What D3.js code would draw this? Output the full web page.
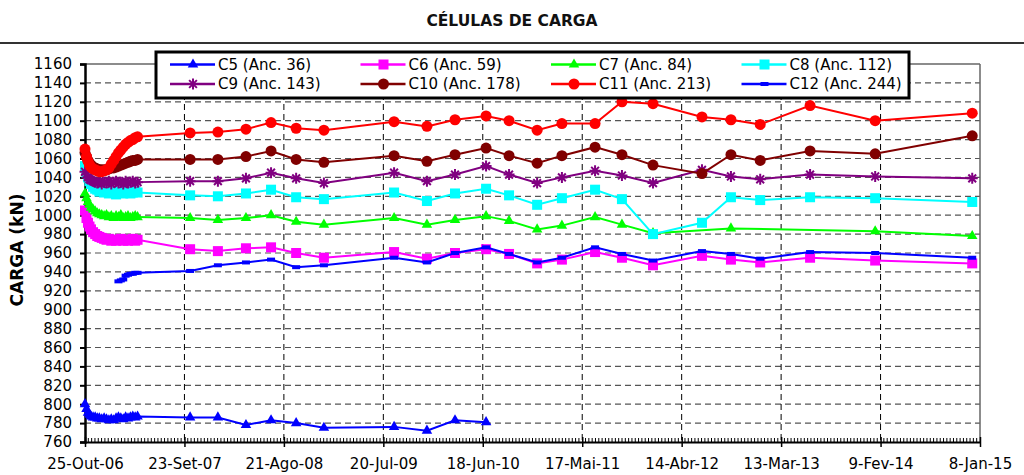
<!DOCTYPE html>
<html><head><meta charset="utf-8">
<script src="https://cdn.jsdelivr.net/npm/d3@7"></script>
<style>
html,body{margin:0;padding:0;background:#fff;}
svg{display:block;font-family:"DejaVu Sans",Verdana,sans-serif;}
</style></head>
<body><svg id="chart" width="1024" height="475"></svg>
<script>
// ---------- DATA ----------
const dates = [
 "2006-10-25","2006-10-30","2006-11-04","2006-11-09","2006-11-14","2006-11-21","2006-11-28","2006-12-05",
 "2006-12-12","2006-12-20","2006-12-28","2007-01-05","2007-01-13","2007-01-21","2007-01-29","2007-02-06",
 "2007-02-14","2007-02-22","2007-03-02","2007-03-10","2007-03-18","2007-03-26","2007-04-03","2007-04-11","2007-04-19",
 "2007-10-12","2008-01-13","2008-04-16","2008-07-09","2008-10-01","2009-01-02","2009-08-25","2009-12-13",
 "2010-03-17","2010-06-29","2010-09-14","2010-12-17","2011-03-10","2011-06-29","2011-09-27","2012-01-09",
 "2012-06-21","2012-09-26","2013-01-02","2013-06-18","2014-01-22","2014-12-13"
];
const seriesNames = ["C5 (Anc. 36)","C6 (Anc. 59)","C7 (Anc. 84)","C8 (Anc. 112)",
                     "C9 (Anc. 143)","C10 (Anc. 178)","C11 (Anc. 213)","C12 (Anc. 244)"];
const c5 = [800,795,791,789,787,786,786,785,785,784,785,784,783,784,783,785,786,785,784,786,785,786,787,786,787,
            786,786,778,783,780,775,776,772,783,781,null,null,null,null,null,null,null,null,null,null,null,null];
const c6 = [1005,997,992,988,985,982,980,978,977,976,975,974,975,973,974,973,974,975,973,974,973,974,975,973,974,
            964,962,965,966,960,955,961,954,960,964,959,949,953,961,955,947,957,953,950,955,952,949];
const c7 = [1023,1018,1014,1011,1008,1006,1004,1002,1001,1000,999,1000,998,999,997,999,998,1000,997,998,999,997,998,999,998,
            997,995,997,1000,993,990,997,990,995,999,994,985,989,998,990,981,null,986,null,null,983,978];
const c8 = [1052,1045,1040,1036,1033,1030,1028,1027,1025,1026,1024,1025,1023,1025,1024,1022,1024,1025,1023,1024,1025,1023,1024,1025,1024,
            1021,1020,1023,1027,1019,1017,1024,1015,1023,1028,1021,1011,1018,1027,1017,980,992,1019,1016,1019,1018,1014];
const c9 = [1046,1043,1040,1038,1037,1036,1035,1034,1036,1033,1035,1034,1036,1033,1035,1036,1034,1035,1033,1036,1034,1035,1036,1034,1035,
            1036,1036,1039,1045,1039,1034,1045,1036,1043,1052,1043,1034,1040,1047,1042,1034,1048,1041,1038,1043,1041,1039];
const c10 = [1066,1062,1058,1055,1053,1051,1050,1049,1048,1048,1048,1048,1049,1050,1050,1051,1052,1053,1054,1055,1056,1057,1058,1058,1059,
             1059,1059,1062,1068,1059,1056,1063,1057,1064,1071,1063,1055,1063,1072,1064,1053,1044,1064,1058,1068,1065,1084];
const c11 = [1070,1062,1057,1053,1051,1049,1048,1047,1046,1046,1047,1048,1050,1054,1058,1062,1066,1069,1072,1075,1077,1079,1080,1082,1083,
             1087,1088,1091,1098,1092,1090,1099,1094,1101,1105,1100,1090,1097,1097,1120,1118,1104,1101,1096,1116,1100,1108];
const c12 = [null,null,null,null,null,null,null,null,null,null,null,null,null,null,null,null,930,931,932,936,937,938,938,939,939,
             941,947,950,953,945,947,955,950,960,966,959,950,955,966,959,952,962,959,954,961,960,955];
const xTickDates = ["2006-10-25","2007-09-23","2008-08-21","2009-07-20","2010-06-18",
                    "2011-05-17","2012-04-14","2013-03-13","2014-02-09","2015-01-08"];
const xTickLabels = ["25-Out-06","23-Set-07","21-Ago-08","20-Jul-09","18-Jun-10",
                     "17-Mai-11","14-Abr-12","13-Mar-13","9-Fev-14","8-Jan-15"];
const yTicks = d3.range(760, 1161, 20);

// ---------- STYLE ----------
const colors = ["#0000FF","#FF00FF","#00FF00","#00FFFF","#800080","#800000","#FF0000","#0000FF"];
const markers = ["triangle","square","triangle","square","star","circle","circle","dash"];
const allSeries = [c5,c6,c7,c8,c9,c10,c11,c12];

const parse = d3.timeParse("%Y-%m-%d");
const svg = d3.select("#chart");
const L = 85, R = 980, T = 64, B = 442;
const x = d3.scaleTime().domain([parse(xTickDates[0]), parse(xTickDates[xTickDates.length-1])]).range([L, R]);
const y = d3.scaleLinear().domain([760, 1160]).range([B, T]);

// title
svg.append("text").attr("x", 512).attr("y", 26).attr("text-anchor","middle")
  .attr("font-size", 15.5).attr("font-weight","bold").attr("fill","#111").text("CÉLULAS DE CARGA");
svg.append("line").attr("x1",0).attr("x2",1024).attr("y1",43).attr("y2",43)
  .attr("stroke","#333").attr("stroke-width",2);

// gridlines
const grid = svg.append("g");
yTicks.filter(v => v > 760 && v < 1160).forEach(v => {
  grid.append("line").attr("x1", L).attr("x2", R).attr("y1", y(v)).attr("y2", y(v))
    .attr("stroke","#555").attr("stroke-width",1.2).attr("stroke-dasharray","6,4");
});
xTickDates.slice(1, -1).forEach(d => {
  grid.append("line").attr("x1", x(parse(d))).attr("x2", x(parse(d))).attr("y1", T).attr("y2", B)
    .attr("stroke","#000").attr("stroke-width",1).attr("stroke-dasharray","6,4");
});
// frame top/right
svg.append("line").attr("x1", L).attr("x2", R).attr("y1", T).attr("y2", T).attr("stroke","#666").attr("stroke-width",1.5);
svg.append("line").attr("x1", R).attr("x2", R).attr("y1", T).attr("y2", B).attr("stroke","#666").attr("stroke-width",1.5);

// y axis
const yAxis = svg.append("g").attr("transform", `translate(${L},0)`)
  .call(d3.axisLeft(y).tickValues(yTicks).tickSize(5).tickPadding(8).tickFormat(d3.format("d")));
yAxis.select(".domain").attr("stroke","#000").attr("stroke-width",2.5);
yAxis.selectAll(".tick line").attr("stroke","#000").attr("stroke-width",2);
yAxis.selectAll(".tick text").attr("font-size",15).attr("font-family","DejaVu Sans, sans-serif").attr("fill","#000");

// x axis
const labelMap = new Map(xTickDates.map((d,i) => [+parse(d), xTickLabels[i]]));
const xAxis = svg.append("g").attr("transform", `translate(0,${B})`)
  .call(d3.axisBottom(x).tickValues(xTickDates.map(parse)).tickSizeInner(5).tickSizeOuter(0).tickPadding(11)
        .tickFormat(d => labelMap.get(+d)));
xAxis.select(".domain").attr("stroke","#000").attr("stroke-width",2);
xAxis.selectAll(".tick line").attr("stroke","#000").attr("stroke-width",1.5).attr("y1",-5);
xAxis.selectAll(".tick text").attr("font-size",15).attr("font-family","DejaVu Sans, sans-serif").attr("fill","#000");
// minor ticks
const minor = svg.append("g");
for (let i = 0; i < xTickDates.length - 1; i++) {
  const a = x(parse(xTickDates[i])), b = x(parse(xTickDates[i+1]));
  for (let k = 1; k < 30; k++) {
    const px = a + (b - a) * k / 30;
    minor.append("line").attr("x1", px).attr("x2", px).attr("y1", B).attr("y2", B - 4)
      .attr("stroke","#000").attr("stroke-width",1);
  }
}

// y title
svg.append("text").attr("transform", "translate(23,250) rotate(-90)").attr("text-anchor","middle")
  .attr("font-size",17).attr("font-weight","bold").attr("fill","#000").text("CARGA  (kN)");

// marker drawer
function drawMarker(g, type, color, cx, cy) {
  if (type === "triangle") {
    g.append("path").attr("d", d3.symbol().type(d3.symbolTriangle).size(48)())
      .attr("transform", `translate(${cx},${cy})`).attr("fill", color);
  } else if (type === "square") {
    g.append("rect").attr("x", cx-5).attr("y", cy-5).attr("width",10).attr("height",10).attr("fill", color);
  } else if (type === "circle") {
    g.append("circle").attr("cx", cx).attr("cy", cy).attr("r", 5.5).attr("fill", color);
  } else if (type === "star") {
    const r = 5.5, p = [];
    for (let k = 0; k < 4; k++) {
      const a = k * Math.PI / 4;
      p.push(`M${cx - r*Math.cos(a)},${cy - r*Math.sin(a)}L${cx + r*Math.cos(a)},${cy + r*Math.sin(a)}`);
    }
    g.append("path").attr("d", p.join("")).attr("stroke", color).attr("stroke-width",2).attr("fill","none");
  } else if (type === "dash") {
    g.append("rect").attr("x", cx-4).attr("y", cy-2).attr("width",8).attr("height",4).attr("fill", color);
  }
}

// series
const plot = svg.append("g");
const line = d3.line().x(d => x(d.date)).y(d => y(d.v));
allSeries.forEach((vals, si) => {
  const pts = dates.map((d,i) => ({date: parse(d), v: vals[i]})).filter(p => p.v !== null);
  const g = plot.append("g");
  g.append("path").datum(pts).attr("d", line).attr("fill","none")
    .attr("stroke", colors[si]).attr("stroke-width",2);
  pts.forEach(p => drawMarker(g, markers[si], colors[si], x(p.date), y(p.v)));
});

// legend
const lg = svg.append("g");
lg.append("rect").attr("x",156).attr("y",52).attr("width",753).attr("height",46)
  .attr("fill","#fff").attr("stroke","#000").attr("stroke-width",3);
seriesNames.forEach((name, i) => {
  const col = i % 4, row = Math.floor(i / 4);
  const tx = 218 + col * 190.5, ty = 64.5 + row * 19.5;
  lg.append("line").attr("x1", tx-48).attr("x2", tx-3).attr("y1", ty).attr("y2", ty)
    .attr("stroke", colors[i]).attr("stroke-width",2.5);
  drawMarker(lg, markers[i], colors[i], tx-25, ty);
  lg.append("text").attr("x", tx).attr("y", ty).attr("dy","0.36em").attr("font-size",15)
    .attr("fill","#000").text(name);
});
</script></body></html>
